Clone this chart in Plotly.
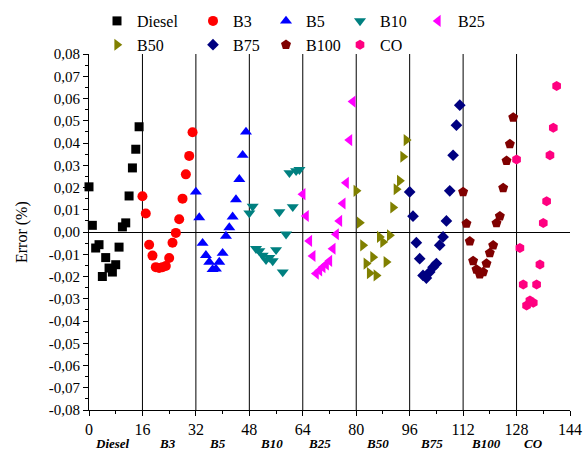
import plotly.graph_objects as go

# ---------------- data ----------------
categories = ["Diesel", "B3", "B5", "B10", "B25", "B50", "B75", "B100", "CO"]
group_width = 16

diesel = [0.0203, 0.0030, -0.0072, -0.0057, -0.0200, -0.0115, -0.0162, -0.0180,
          -0.0147, -0.0068, 0.0023, 0.0041, 0.0162, 0.0288, 0.0372, 0.0473]
b3 = [0.0161, 0.0083, -0.0057, -0.0106, -0.0158, -0.0162, -0.0158, -0.0153,
      -0.0117, -0.0048, -0.0004, 0.0057, 0.0150, 0.0259, 0.0342, 0.0448]
b5 = [0.0180, 0.0065, -0.0050, -0.0105, -0.0135, -0.0168, -0.0166, -0.0135,
      -0.0095, -0.0018, 0.0020, 0.0068, 0.0146, 0.0237, 0.0345, 0.0450]
b10 = [0.0085, 0.0115, -0.0075, -0.0085, -0.0105, -0.0125, -0.0115, -0.0130,
       -0.0080, 0.0090, -0.0180, -0.0010, 0.0266, 0.0113, 0.0275, 0.0280]
b25 = [0.0170, 0.0072, -0.0040, -0.0108, -0.0187, -0.0173, -0.0158, -0.0146,
       -0.0130, -0.0075, -0.0010, 0.0050, 0.0128, 0.0221, 0.0413, 0.0586]
b50 = [0.0185, 0.0042, -0.0060, -0.0142, -0.0185, -0.0113, -0.0195, -0.0022,
       -0.0045, -0.0135, -0.0015, 0.0110, 0.0192, 0.0230, 0.0338, 0.0413]
b75 = [0.0180, 0.0071, -0.0048, -0.0120, -0.0195, -0.0207, -0.0180, -0.0158,
       -0.0142, -0.0059, -0.0022, 0.0050, 0.0185, 0.0345, 0.0480, 0.0570]
b100 = [0.0180, 0.0038, -0.0042, -0.0130, -0.0168, -0.0190, -0.0180, -0.0142,
        -0.0094, -0.0060, 0.0040, 0.0071, 0.0198, 0.0320, 0.0395, 0.0515]
co = [0.0326, -0.0072, -0.0236, -0.0330, -0.0308, -0.0318, -0.0236, -0.0146,
      0.0040, 0.0138, 0.0345, 0.0469, 0.0656]

series = [diesel, b3, b5, b10, b25, b50, b75, b100, co]

x_tick_vals = [0, 16, 32, 48, 64, 80, 96, 112, 128, 144]
y_tick_vals = [-0.08, -0.07, -0.06, -0.05, -0.04, -0.03, -0.02, -0.01, 0.0,
               0.01, 0.02, 0.03, 0.04, 0.05, 0.06, 0.07, 0.08]
y_tick_text = ["-0,08", "-0,07", "-0,06", "-0,05", "-0,04", "-0,03", "-0,02", "-0,01", "0,00",
               "0,01", "0,02", "0,03", "0,04", "0,05", "0,06", "0,07", "0,08"]

# ---------------- styles ----------------
symbols = ["square", "circle", "triangle-up", "triangle-down", "triangle-left",
           "triangle-right", "diamond", "pentagon", "hexagon"]
colors = ["#000000", "#FF0000", "#0000FF", "#008080", "#FF00FF",
          "#808000", "#000080", "#800000", "#FF0080"]
sizes = [9, 10, 10.5, 10.5, 10.5, 10.5, 9, 10.5, 10]
# legend columns: Diesel/B50, B3/B75, B5/B100, B10/CO, B25
legend_ids = ["legend", "legend2", "legend3", "legend4", "legend5",
              "legend", "legend2", "legend3", "legend4"]
# small manual nudges of the group captions (in axis units)
caption_offsets = [7, 7.5, 6.5, 6.5, 5, 6.5, 6.5, 7, 5]

FONT = "Liberation Serif"
L, R, T, B = 89, 16, 54, 41
W, H = 586, 451
pw, ph = W - L - R, H - T - B

def px_x(px):
    return (px - L) / pw

def px_y(py):
    return (H - B - py) / ph

fig = go.Figure()
for k, (name, vals) in enumerate(zip(categories, series)):
    xs = [group_width * k + i for i in range(len(vals))]
    fig.add_trace(go.Scatter(
        x=xs, y=vals, mode="markers", name=name,
        marker=dict(symbol=symbols[k], color=colors[k], size=sizes[k], line=dict(width=0)),
        cliponaxis=False, legend=legend_ids[k],
    ))

# separators between groups
for k in range(1, len(categories)):
    fig.add_shape(type="line", xref="x", yref="y",
                  x0=group_width * k, x1=group_width * k, y0=-0.08, y1=0.08,
                  line=dict(color="#000000", width=1), layer="below")

# category labels under the axis
for k, name in enumerate(categories):
    fig.add_annotation(x=group_width * k + caption_offsets[k], y=px_y(443), xref="x", yref="paper",
                       text=f"<b><i>{name}</i></b>", showarrow=False,
                       font=dict(family=FONT, size=13, color="black"),
                       xanchor="center", yanchor="middle")

fig.add_annotation(x=px_x(22), y=0.5, xref="paper", yref="paper",
                   text="Error (%)", textangle=-90, showarrow=False,
                   font=dict(family=FONT, size=16, color="black"),
                   xanchor="center", yanchor="middle")

legend_cols_px = [117, 213, 286, 360, 438]
leg_common = dict(orientation="v", bgcolor="rgba(0,0,0,0)", borderwidth=0,
                  font=dict(family=FONT, size=16, color="black"),
                  xanchor="left", yanchor="top", tracegroupgap=0,
                  itemclick=False, itemdoubleclick=False)
legends = {}
for j, lid in enumerate(["legend", "legend2", "legend3", "legend4", "legend5"]):
    legends[lid] = dict(x=px_x(legend_cols_px[j] - 20), y=px_y(4), **leg_common)

fig.update_layout(
    width=W, height=H,
    margin=dict(l=L, r=R, t=T, b=B, autoexpand=False),
    plot_bgcolor="white", paper_bgcolor="white",
    font=dict(family=FONT, size=15, color="black"),
    showlegend=True,
    xaxis=dict(range=[0, 144], tickvals=x_tick_vals, ticks="outside", ticklen=5,
               tickcolor="black", showline=True, linecolor="black", linewidth=1,
               showgrid=False, zeroline=False, tickfont=dict(family=FONT, size=16),
               minor=dict(dtick=8, ticks="outside", ticklen=3, tickcolor="black")),
    yaxis=dict(range=[-0.08, 0.08], tickvals=y_tick_vals, ticktext=y_tick_text,
               ticks="outside", ticklen=5, tickcolor="black", showline=True,
               linecolor="black", linewidth=1, showgrid=False,
               zeroline=True, zerolinecolor="black", zerolinewidth=1,
               tickfont=dict(family=FONT, size=15),
               minor=dict(tickvals=[v + 0.005 for v in y_tick_vals[:-1]], ticks="outside",
                          ticklen=3, tickcolor="black")),
    **legends,
)

fig.write_html("out.html")
